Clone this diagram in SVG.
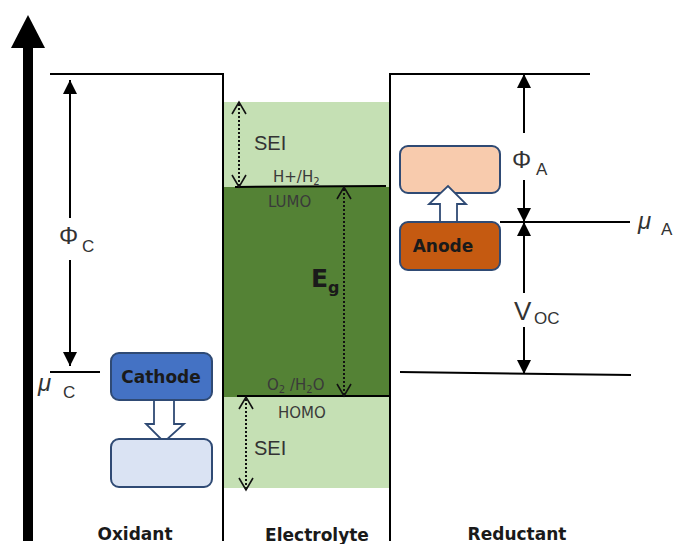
<svg xmlns="http://www.w3.org/2000/svg" width="673" height="544" viewBox="0 0 673 544">
<style>
.ln{stroke:#000;stroke-width:2;fill:none}
.lbl{font-family:"Liberation Sans","Noto Sans",sans-serif;fill:#333}
.small{font-family:"DejaVu Sans","Liberation Sans",sans-serif;fill:#3a3a3a}
.bold{font-family:"DejaVu Sans","Liberation Sans",sans-serif;font-weight:bold;fill:#1a1a1a}
.dot{stroke:#111;stroke-width:2;stroke-dasharray:2 2;fill:none}
.chev{stroke:#111;stroke-width:1.6;fill:none}
.box{stroke:#2F4A74;stroke-width:2}
.hollow{fill:#fff;stroke:#2F4A74;stroke-width:1.8}
</style>
<defs>
<marker id="ah2" viewBox="0 0 10 10" refX="10" refY="5" markerWidth="14" markerHeight="14" markerUnits="userSpaceOnUse" orient="auto">
<path d="M0,0 L10,5 L0,10 z" fill="#000"/>
</marker>
</defs>

<g id="axis">
<rect x="23" y="47" width="10" height="494" fill="#000"/>
<polygon points="28,15 11,48 45,48" fill="#000"/>
</g>

<g id="electrolyte-bands">
<rect x="223" y="102" width="167" height="386" fill="#C5E0B4"/>
<rect x="223" y="187" width="167" height="210" fill="#548235"/>
</g>

<g id="frame">
<polyline class="ln" points="50,74 223,74 223,541"/>
<polyline class="ln" points="390,541 390,74 590,74"/>
<line class="ln" x1="235" y1="187" x2="386" y2="186"/>
<line class="ln" x1="237" y1="396" x2="390" y2="396"/>
<line class="ln" x1="50" y1="372" x2="100" y2="372"/>
<line class="ln" x1="500" y1="222" x2="630" y2="222"/>
<line class="ln" x1="400" y1="372" x2="631" y2="375"/>
</g>

<g id="connectors">
<line x1="70" y1="218" x2="70" y2="80" stroke="#000" stroke-width="2" marker-end="url(#ah2)"/>
<line x1="70" y1="260" x2="70" y2="366" stroke="#000" stroke-width="2" marker-end="url(#ah2)"/>
<line x1="524" y1="133" x2="524" y2="74" stroke="#000" stroke-width="2" marker-end="url(#ah2)"/>
<line x1="524" y1="180" x2="524" y2="222" stroke="#000" stroke-width="2" marker-end="url(#ah2)"/>
<line x1="524" y1="293" x2="524" y2="222" stroke="#000" stroke-width="2" marker-end="url(#ah2)"/>
<line x1="524" y1="327" x2="524" y2="374" stroke="#000" stroke-width="2" marker-end="url(#ah2)"/>
<line class="dot" x1="239" y1="104" x2="239" y2="186"/>
<polyline class="chev" points="232,114 239,102 246,114"/>
<polyline class="chev" points="232,175 239,187 246,175"/>
<line class="dot" x1="344" y1="189" x2="344" y2="394"/>
<polyline class="chev" points="337,199 344,187 351,199"/>
<polyline class="chev" points="337,384 344,396 351,384"/>
<line class="dot" x1="246" y1="399" x2="246" y2="488"/>
<polyline class="chev" points="239,409 246,397 253,409"/>
<polyline class="chev" points="239,478 246,490 253,478"/>
</g>

<g id="cathode">
<rect class="box" x="111" y="353" width="101" height="47" rx="8" fill="#4472C4"/>
<text class="bold" x="161" y="383" font-size="17" text-anchor="middle">Cathode</text>
</g>
<g id="cathode-arrow">
<polygon class="hollow" points="154,400 174,400 174,424 184,424 164,442 146,424 154,424"/>
</g>
<g id="cathode-state">
<rect class="box" x="111" y="439" width="101" height="48" rx="8" fill="#DAE3F3"/>
</g>

<g id="anode-state">
<rect class="box" x="400" y="146" width="100" height="47" rx="8" fill="#F8CBAD"/>
</g>
<g id="anode">
<rect class="box" x="400" y="222" width="100" height="48" rx="8" fill="#C55A11"/>
<text class="bold" x="443" y="252" font-size="17" text-anchor="middle">Anode</text>
</g>
<g id="anode-arrow">
<polygon class="hollow" points="440,222 457,222 457,204 466,204 448,186 429,204 440,204"/>
</g>

<g id="labels">
<text class="lbl" x="59" y="244" font-size="24">Φ</text>
<text class="lbl" x="82" y="252" font-size="17">C</text>
<text class="lbl" x="38" y="391" font-size="24" font-style="italic">μ</text>
<text class="lbl" x="63" y="398" font-size="17">C</text>
<text class="lbl" x="512" y="168" font-size="24">Φ</text>
<text class="lbl" x="536" y="175" font-size="17">A</text>
<text class="lbl" x="638" y="229" font-size="24" font-style="italic">μ</text>
<text class="lbl" x="661" y="235" font-size="17">A</text>
<text class="lbl" x="514" y="320" font-size="26">V</text>
<text class="lbl" x="534" y="324" font-size="17">OC</text>
<text class="lbl" x="254" y="150" font-size="20">SEI</text>
<text class="lbl" x="254" y="455" font-size="20">SEI</text>
<text class="small" x="273" y="182" font-size="15">H+/H<tspan font-size="10" dy="3">2</tspan></text>
<text class="small" x="268" y="207" font-size="15">LUMO</text>
<text class="small" x="267" y="390" font-size="15">O<tspan font-size="10" dy="3">2</tspan><tspan dy="-3"> /H</tspan><tspan font-size="10" dy="3">2</tspan><tspan dy="-3">O</tspan></text>
<text class="small" x="278" y="418" font-size="15">HOMO</text>
<text class="bold" x="311" y="287" font-size="25">E<tspan font-size="16" dy="6">g</tspan></text>
<text class="bold" x="135" y="540" font-size="17" text-anchor="middle">Oxidant</text>
<text class="bold" x="317" y="541" font-size="17" text-anchor="middle">Electrolyte</text>
<text class="bold" x="517" y="540" font-size="17" text-anchor="middle">Reductant</text>
</g>
</svg>
